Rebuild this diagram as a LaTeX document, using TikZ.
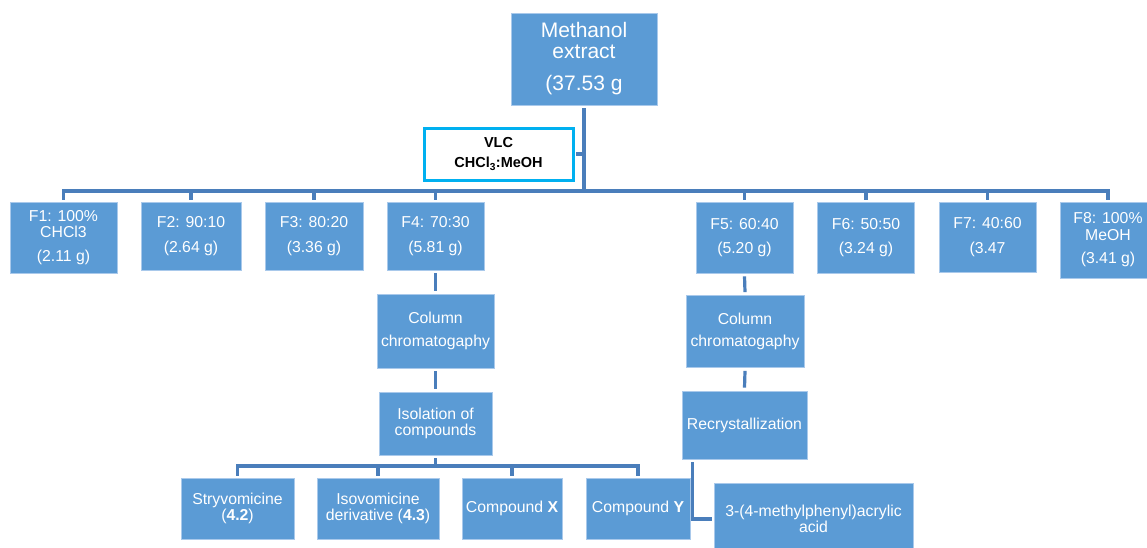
\documentclass[tikz,border=0pt]{standalone}
\usepackage{fontspec}
\setmainfont{Liberation Sans}
\definecolor{boxblue}{HTML}{5B9BD5}
\definecolor{boxedge}{HTML}{A9C9EB}
\definecolor{linkblue}{HTML}{4A7EBB}
\definecolor{vlccyan}{HTML}{00B0F0}
\tikzset{
  bluebox/.style={fill=boxblue, draw=boxedge, line width=0.8pt, text=white, align=center,
    inner sep=0pt, font=\fontsize{15.8}{16.5}\selectfont},
  conn/.style={draw=linkblue, line width=3.2pt, line join=miter},
  vlcbox/.style={draw=vlccyan, line width=3pt, fill=white, text=black, align=center,
    inner sep=0pt, font=\bfseries\fontsize{14.5}{15}\selectfont}
}
\begin{document}
\begin{tikzpicture}[x=1pt,y=-1pt]
\useasboundingbox (0,0) rectangle (1147,547);
\clip (0,0) rectangle (1147,547);
% top
\node[bluebox, minimum width=146pt, minimum height=92pt, font=\fontsize{21}{21}\selectfont] (meth) at (584,59) {Methanol\\extract\\[11pt](37.53 g};
\node[vlcbox, minimum width=149pt, minimum height=52pt] (vlc) at (498.5,154) {VLC\\[5pt]CHCl\textsubscript{3}:MeOH};
% fractions
\node[bluebox, minimum width=107pt, minimum height=71pt] (f1) at (63.5,237.5) {F1: 100\%\\CHCl3\\[7pt](2.11 g)};
\node[bluebox, minimum width=100pt, minimum height=68pt] (f2) at (191,236) {F2: 90:10\\[8pt](2.64 g)};
\node[bluebox, minimum width=98pt, minimum height=68pt] (f3) at (314,236) {F3: 80:20\\[8pt](3.36 g)};
\node[bluebox, minimum width=97pt, minimum height=68pt] (f4) at (435.5,236) {F4: 70:30\\[8pt](5.81 g)};
\node[bluebox, minimum width=97pt, minimum height=71pt] (f5) at (744.5,237.5) {F5: 60:40\\[8pt](5.20 g)};
\node[bluebox, minimum width=97pt, minimum height=71pt] (f6) at (866,237.5) {F6: 50:50\\[8pt](3.24 g)};
\node[bluebox, minimum width=97pt, minimum height=70pt] (f7) at (987.5,237) {F7: 40:60\\[8pt](3.47};
\node[bluebox, minimum width=96pt, minimum height=76pt] (f8) at (1108,240) {F8: 100\%\\MeOH\\[7pt](3.41 g)};
% left branch
\node[bluebox, minimum width=117pt, minimum height=74pt] (col4) at (435.5,331) {Column\\[6pt]chromatogaphy};
\node[bluebox, minimum width=113pt, minimum height=63pt] (iso) at (435.5,423.5) {Isolation of\\compounds};
\node[bluebox, minimum width=113pt, minimum height=61pt] (c1) at (237.5,508.5) {Stryvomicine\\(\textbf{4.2})};
\node[bluebox, minimum width=122pt, minimum height=61pt] (c2) at (378,508.5) {Isovomicine\\derivative (\textbf{4.3})};
\node[bluebox, minimum width=100pt, minimum height=61pt] (c3) at (512,508.5) {Compound \textbf{X}};
\node[bluebox, minimum width=104pt, minimum height=61pt] (c4) at (638,508.5) {Compound \textbf{Y}};
% right branch
\node[bluebox, minimum width=118pt, minimum height=72pt] (col5) at (745,331.5) {Column\\[6pt]chromatogaphy};
\node[bluebox, minimum width=125pt, minimum height=68pt] (rec) at (744.5,425) {Recrystallization};
\node[bluebox, minimum width=199pt, minimum height=72pt] (acid) at (813.5,519) {3-(4-methylphenyl)acrylic\\acid};
% connectors
\coordinate (bj) at (583.5,191);
\coordinate (lb) at (435.5,466);
\draw[conn] ([yshift=-3pt]meth.south) -- (meth.south |- bj);
\draw[conn] ([xshift=1.5pt]vlc.east) -- (vlc.east -| meth.south);
\foreach \f in {f1,f2,f3,f4,f5,f6,f7,f8}{
  \draw[conn] ([yshift=2pt]\f.north) |- (bj);
}
\draw[conn] ([yshift=-3pt]f4.south) -- ([yshift=3pt]col4.north);
\draw[conn] ([yshift=-3pt]col4.south) -- ([yshift=3pt]iso.north);
\draw[conn] ([yshift=-3pt]iso.south) -- (lb);
\foreach \c in {c1,c2,c3,c4}{
  \draw[conn] ([yshift=2pt]\c.north) |- (lb);
}
\draw[conn] ([yshift=-3pt]f5.south) -- ([yshift=3pt]col5.north);
\draw[conn] ([yshift=-3pt]col5.south) -- ([yshift=3pt]rec.north);
\draw[conn] ([xshift=11pt,yshift=-3pt]rec.south west) |- ([xshift=-2pt]acid.west);
\end{tikzpicture}
\end{document}
